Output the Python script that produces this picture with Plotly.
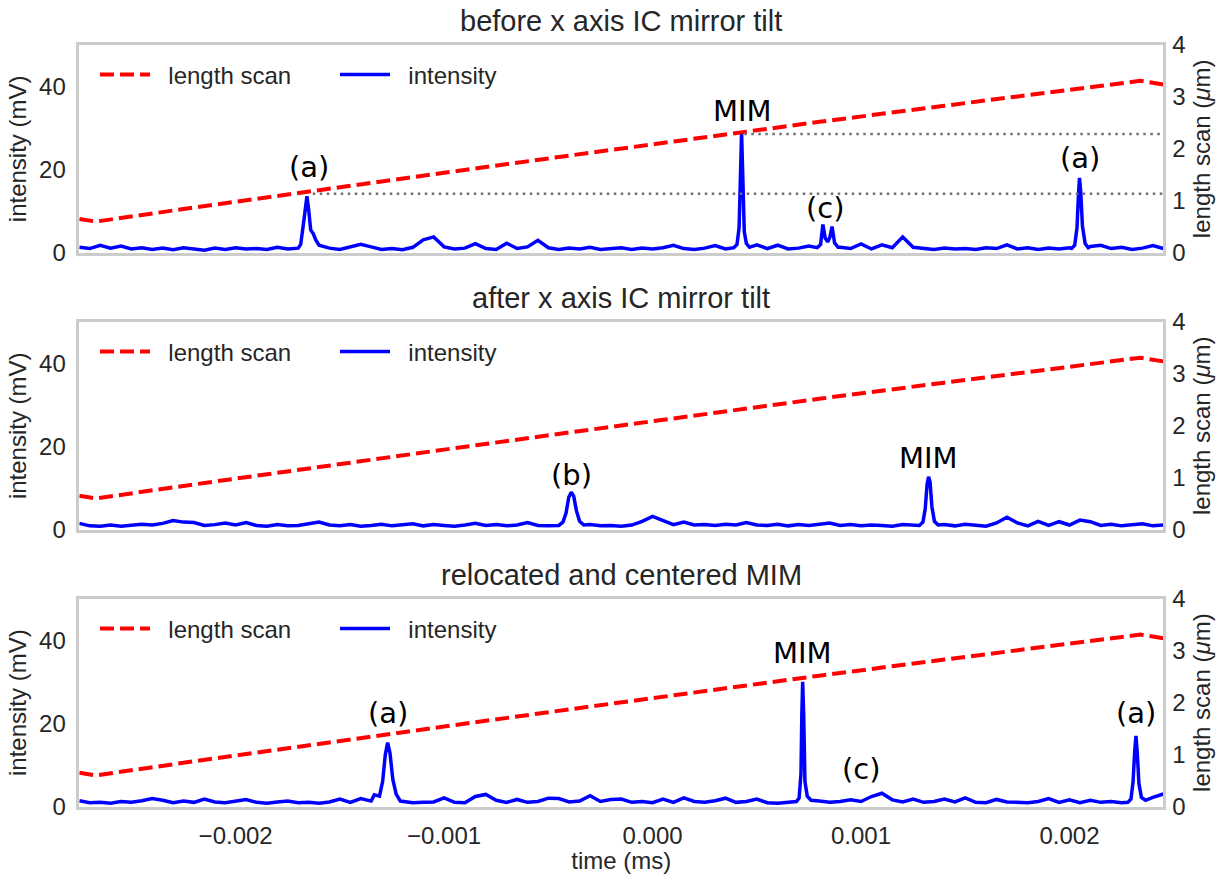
import numpy as np
import plotly.graph_objects as go

# ---------------- data (time in units of 1e-3 ms) ----------------
GRID_U = np.round(np.arange(-2.75, 2.4501, 0.05), 3)  # sampling grid of the baseline readings

BASE1 = [1.3, 1.0, 1.8, 1.1, 1.6, 0.9, 1.2, 0.8, 1.1, 0.7,
         1.2, 0.9, 0.6, 1.1, 0.8, 1.2, 0.9, 1.0, 0.8, 1.3,
         0.9, 1.4, 1.0, 1.0, 1.1, 0.8, 1.5, 2.0, 1.4, 0.8,
         1.0, 0.7, 1.3, 3.1, 3.8, 1.4, 0.9, 1.1, 2.2, 1.0,
         0.8, 2.3, 1.0, 1.4, 3.0, 1.2, 0.8, 1.1, 0.9, 1.3,
         0.8, 1.0, 1.2, 0.8, 1.1, 0.9, 1.2, 1.8, 1.0, 0.8,
         1.1, 1.7, 0.9, 1.2, 1.0, 1.9, 1.0, 1.8, 0.9, 1.1,
         1.6, 1.2, 1.2, 1.3, 1.0, 2.1, 0.9, 1.9, 1.2, 3.8,
         1.3, 1.0, 0.8, 1.1, 0.9, 1.0, 0.8, 1.2, 1.0, 1.9,
         0.9, 1.2, 0.8, 1.1, 0.9, 1.2, 1.2, 1.5, 1.8, 1.0,
         1.3, 0.8, 1.1, 1.7, 1.0]
BASE2 = [1.5, 0.9, 0.8, 1.1, 0.8, 1.0, 1.3, 1.1, 1.5, 2.2,
         1.8, 1.7, 1.0, 1.2, 1.6, 1.1, 1.7, 1.0, 0.8, 1.2,
         0.9, 1.0, 1.3, 1.8, 1.1, 0.9, 1.2, 0.8, 1.0, 1.3,
         0.9, 1.1, 1.4, 0.9, 1.2, 1.0, 0.8, 1.1, 1.5, 1.0,
         1.2, 0.9, 1.1, 1.7, 1.0, 0.9, 1.0, 1.0, 1.0, 1.2,
         0.9, 1.0, 0.8, 1.1, 2.0, 3.2, 2.2, 1.2, 1.8, 1.1,
         1.2, 1.0, 1.3, 1.1, 1.7, 1.1, 1.0, 1.3, 0.9, 1.2,
         1.0, 1.4, 1.6, 1.0, 1.2, 0.9, 1.1, 1.0, 0.8, 1.2,
         1.0, 1.0, 1.0, 1.2, 0.9, 1.3, 1.0, 0.8, 1.6, 3.0,
         1.6, 0.9, 2.0, 1.0, 1.9, 1.1, 2.3, 1.9, 1.0, 1.3,
         0.9, 1.2, 1.4, 0.9, 1.1]
BASE3 = [1.4, 0.9, 1.0, 0.8, 1.2, 1.0, 1.4, 1.9, 1.5, 0.9,
         1.3, 1.0, 1.8, 1.1, 0.9, 1.2, 1.7, 1.0, 0.8, 1.1,
         1.3, 0.9, 1.0, 0.8, 1.1, 1.8, 1.0, 1.9, 1.3, 1.0,
         1.0, 1.2, 0.9, 1.0, 1.1, 2.1, 1.0, 0.9, 2.4, 2.9,
         1.5, 1.0, 1.7, 1.0, 1.2, 2.0, 1.9, 1.1, 1.3, 2.6,
         1.2, 1.7, 1.8, 1.0, 1.2, 0.9, 1.8, 1.0, 2.1, 1.2,
         1.0, 1.4, 2.0, 1.0, 1.2, 1.8, 0.9, 0.8, 1.1, 1.0,
         1.0, 1.3, 1.0, 1.2, 1.6, 1.2, 2.4, 3.2, 1.6, 1.1,
         1.8, 1.0, 1.2, 1.8, 1.1, 2.1, 1.0, 0.9, 1.7, 1.1,
         1.0, 0.9, 1.2, 1.9, 1.0, 1.6, 0.9, 1.5, 1.0, 1.2,
         0.9, 1.0, 1.0, 2.2, 3.0]

# peaks: (times, values in mV)
PEAKS1 = [([-1.700, -1.688, -1.676, -1.666, -1.658, -1.650, -1.640, -1.628, -1.615, -1.600],
           [1.1, 2.0, 6.5, 11.5, 13.6, 10.5, 5.5, 4.6, 3.0, 1.8]),
          ([0.390, 0.405, 0.415, 0.421, 0.427, 0.433, 0.440, 0.450, 0.465],
           [1.2, 2.0, 6.0, 19.0, 28.9, 18.0, 5.0, 2.2, 1.3]),
          ([0.790, 0.806, 0.817, 0.828, 0.840, 0.851, 0.861, 0.873, 0.890],
           [1.2, 2.0, 6.8, 3.5, 2.6, 3.8, 6.3, 2.4, 1.3]),
          ([2.010, 2.025, 2.036, 2.043, 2.048, 2.054, 2.062, 2.075, 2.090],
           [1.0, 1.8, 6.0, 14.0, 18.0, 14.5, 6.5, 2.2, 1.2])]
PEAKS2 = [([-0.450, -0.430, -0.415, -0.402, -0.390, -0.378, -0.365, -0.350, -0.330],
           [1.0, 1.8, 4.0, 7.8, 9.0, 8.0, 4.5, 2.0, 1.1]),
          ([1.280, 1.297, 1.308, 1.317, 1.324, 1.331, 1.340, 1.352, 1.370],
           [1.0, 1.8, 5.0, 11.0, 12.7, 11.5, 5.5, 2.0, 1.1])]
PEAKS3 = [([-1.335, -1.310, -1.295, -1.282, -1.271, -1.260, -1.246, -1.230, -1.210],
           [2.8, 2.5, 6.0, 12.5, 15.4, 13.0, 6.5, 3.0, 1.3]),
          ([0.690, 0.703, 0.712, 0.716, 0.720, 0.725, 0.731, 0.742, 0.760],
           [1.2, 2.0, 8.0, 22.0, 30.0, 22.0, 6.0, 2.5, 1.5]),
          ([2.280, 2.295, 2.305, 2.313, 2.319, 2.325, 2.333, 2.345, 2.365],
           [1.0, 1.8, 6.0, 13.5, 17.0, 13.0, 5.5, 2.2, 1.5])]

# length scan (µm), same in all panels
SCAN_U = [-2.75, -2.67, -2.20, -1.60, -1.00, -0.40, 0.20, 0.80, 1.40, 2.00, 2.34, 2.45]
SCAN_UM = [0.65, 0.60, 0.87, 1.21, 1.54, 1.87, 2.20, 2.52, 2.83, 3.14, 3.31, 3.24]

# dotted reference levels in the first panel (start time, level µm)
REF_START_U = [-1.63, 0.44]
REF_LEVEL_UM = [1.135, 2.285]
REF_END_U = 2.45

TITLES = ["before x axis IC mirror tilt", "after x axis IC mirror tilt", "relocated and centered MIM"]
LABELS = [["(a)", "MIM", "(c)", "(a)"], ["(b)", "MIM"], ["(a)", "MIM", "(c)", "(a)"]]
LABEL_U = [[-1.650, 0.430, 0.830, 2.048], [-0.390, 1.324], [-1.271, 0.720, 1.003, 2.317]]
LABEL_MV = [[20.7, 34.2, 10.7, 22.7], [13.1, 17.2], [22.5, 37.0, 9.0, 22.5]]

X_TICKS = [-0.002, -0.001, 0.0, 0.001, 0.002]
Y_TICKS = [0, 20, 40]
Y2_TICKS = [0, 1, 2, 3, 4]


def build(base, peaks):
    base = np.asarray(base, float)
    assert len(base) == len(GRID_U)
    keep = np.ones(len(GRID_U), bool)
    for pt, _ in peaks:
        keep &= ~((GRID_U >= min(pt)) & (GRID_U <= max(pt)))
    t = np.concatenate([GRID_U[keep]] + [np.asarray(pt) for pt, _ in peaks])
    v = np.concatenate([base[keep]] + [np.asarray(pv) for _, pv in peaks])
    o = np.argsort(t)
    return t[o] * 1e-3, v[o]


SERIES = [build(BASE1, PEAKS1), build(BASE2, PEAKS2), build(BASE3, PEAKS3)]

# ---------------- layout geometry ----------------
W, H = 1231, 874
X_DOM = [79.3 / W, 1163.3 / W]
TOPS = [45.0, 321.9, 598.8]
PANEL_H = 207.7
Y_DOMS = [[1 - (t + PANEL_H) / H, 1 - t / H] for t in TOPS]
XR = [-2.75e-3, 2.45e-3]

FONT = "Arial, Liberation Sans, sans-serif"
TXT = "#262626"
SPINE = "#cccccc"
RED = "#ff0000"
BLUE = "#0000ff"

fig = go.Figure()
layout = dict(width=W, height=H, margin=dict(l=0, r=0, t=0, b=0, pad=0, autoexpand=False),
              paper_bgcolor="white", plot_bgcolor="white",
              font=dict(family=FONT, color=TXT, size=24), showlegend=True)
annotations = []

for i in range(3):
    xa = "x" if i == 0 else f"x{i + 1}"
    ya = "y" if i == 0 else f"y{i + 1}"
    ya2 = f"y{i + 4}"
    lg = "legend" if i == 0 else f"legend{i + 1}"
    t, v = SERIES[i]

    fig.add_trace(go.Scatter(x=np.array(SCAN_U) * 1e-3, y=SCAN_UM, mode="lines",
                             name="\u00a0\u00a0length scan", legend=lg,
                             line=dict(color=RED, width=4, dash="14px,6px"),
                             xaxis=xa, yaxis=ya2))
    fig.add_trace(go.Scatter(x=t, y=v, mode="lines", name="\u00a0\u00a0intensity", legend=lg,
                             line=dict(color=BLUE, width=3.5), xaxis=xa, yaxis=ya))
    if i == 0:
        for s, lvl in zip(REF_START_U, REF_LEVEL_UM):
            fig.add_trace(go.Scatter(x=[s * 1e-3, REF_END_U * 1e-3], y=[lvl, lvl], mode="lines",
                                     showlegend=False, line=dict(color="#707070", width=2.5, dash="2.5px,4.5px"),
                                     xaxis=xa, yaxis=ya2))

    ax_common = dict(showline=True, linecolor=SPINE, linewidth=2.5, mirror=True,
                     showgrid=False, zeroline=False, ticks="", automargin=False)
    xkey = "xaxis" if i == 0 else f"xaxis{i + 1}"
    layout[xkey] = dict(ax_common, domain=X_DOM, anchor=ya, range=XR,
                        tickvals=X_TICKS, tickformat=".3f",
                        showticklabels=(i == 2), ticklabelstandoff=6,
                        tickfont=dict(size=24, color=TXT))
    if i == 2:
        layout[xkey]["title"] = dict(text="time (ms)", font=dict(size=24, color=TXT), standoff=8)
    ykey = "yaxis" if i == 0 else f"yaxis{i + 1}"
    layout[ykey] = dict(ax_common, domain=Y_DOMS[i], anchor=xa, range=[0, 50],
                        tickvals=Y_TICKS, ticklabelstandoff=6,
                        tickfont=dict(size=24, color=TXT),
                        title=dict(text="intensity (mV)", font=dict(size=24, color=TXT), standoff=6))
    layout[f"yaxis{i + 4}"] = dict(showline=False, showgrid=False, zeroline=False, ticks="",
                                   automargin=False,
                                   overlaying=ya, side="right", anchor=xa, range=[0, 4],
                                   tickvals=Y2_TICKS, ticklabelstandoff=8,
                                   tickfont=dict(size=24, color=TXT),
                                   title=dict(text="length scan (<i>μ</i>m)",
                                              font=dict(size=24, color=TXT), standoff=8))
    layout[lg] = dict(orientation="h", x=95 / W, y=1 - (TOPS[i] + 30) / H,
                      xanchor="left", yanchor="middle", bgcolor="rgba(0,0,0,0)",
                      font=dict(size=24, color=TXT), itemwidth=50,
                      entrywidth=175, entrywidthmode="pixels", traceorder="normal")
    annotations.append(dict(text=TITLES[i], xref="paper", yref="paper",
                            x=(X_DOM[0] + X_DOM[1]) / 2, y=1 - (TOPS[i] - 24) / H,
                            xanchor="center", yanchor="middle", showarrow=False,
                            font=dict(size=29, color=TXT)))
    for lab, lu, lm in zip(LABELS[i], LABEL_U[i], LABEL_MV[i]):
        annotations.append(dict(text=lab, xref=xa, yref=ya, x=lu * 1e-3, y=lm,
                                xanchor="center", yanchor="middle", showarrow=False,
                                font=dict(family="DejaVu Sans", size=29, color="black")))

layout["annotations"] = annotations
fig.update_layout(**layout)
fig.write_html("out.html")
